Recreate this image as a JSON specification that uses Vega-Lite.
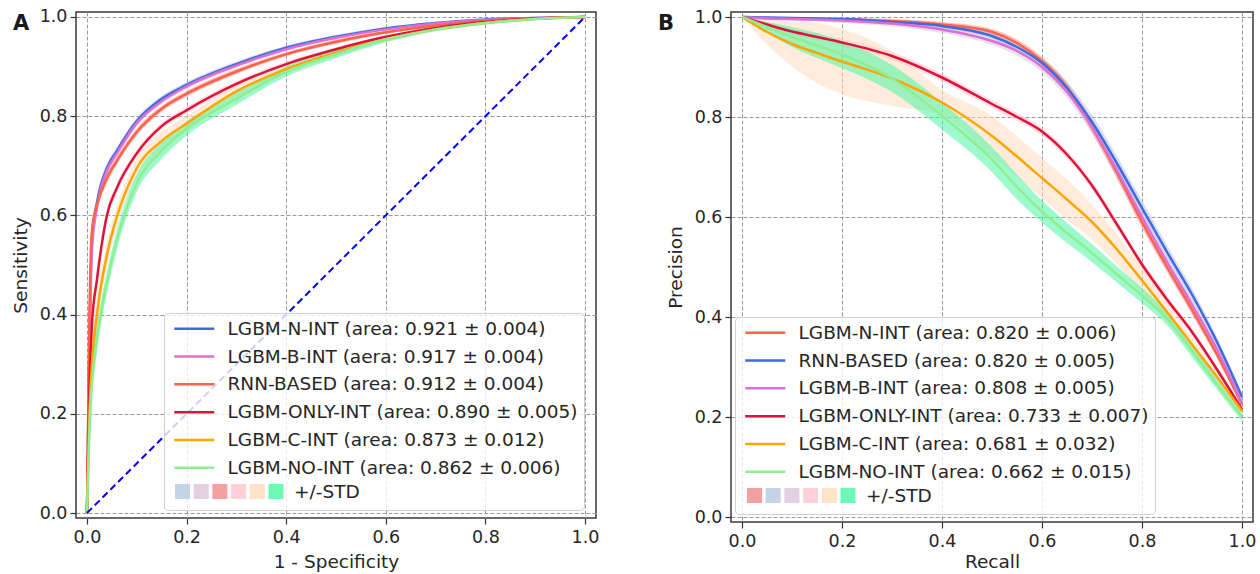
{
"$schema": "https://vega.github.io/schema/vega-lite/v6.json",
"autosize": "none",
"padding": {"left": 76, "top": 12, "right": 1184, "bottom": 562},
"background": "white",
"config": {
  "font": "DejaVu Sans",
  "view": {"stroke": "#3a3a3a", "strokeWidth": 1.5},
  "axis": {"grid": true, "gridDash": [4, 2], "gridColor": "#9a9a9a", "gridWidth": 1, "domain": false, "tickColor": "#333333", "tickSize": 6, "tickWidth": 1.2, "labelFont": "DejaVu Sans", "labelFontSize": 17.5, "labelColor": "#262626", "titleFont": "DejaVu Sans", "titleFontSize": 18.5, "titleFontWeight": "normal", "titleColor": "#262626", "labelPadding": 3, "labelFlush": false, "labelOverlap": false},
  "axisX": {"titlePadding": 7, "labelPadding": 4},
  "axisY": {"titlePadding": 9},
  "legend": {"labelFont": "DejaVu Sans", "titleFont": "DejaVu Sans", "labelColor": "#262626", "titleColor": "#262626", "titleFontWeight": "normal"}
},
"datasets": {
"rocA": [
{"m":"LGBM-N-INT","x":0,"y":0,"lo":0,"hi":0},
{"m":"LGBM-N-INT","x":0.005,"y":0.35,"lo":0.33,"hi":0.37},
{"m":"LGBM-N-INT","x":0.01,"y":0.55,"lo":0.535,"hi":0.565},
{"m":"LGBM-N-INT","x":0.02,"y":0.625,"lo":0.613,"hi":0.637},
{"m":"LGBM-N-INT","x":0.04,"y":0.695,"lo":0.685,"hi":0.705},
{"m":"LGBM-N-INT","x":0.06,"y":0.73,"lo":0.722,"hi":0.738},
{"m":"LGBM-N-INT","x":0.1,"y":0.79,"lo":0.783,"hi":0.797},
{"m":"LGBM-N-INT","x":0.15,"y":0.835,"lo":0.829,"hi":0.841},
{"m":"LGBM-N-INT","x":0.2,"y":0.863,"lo":0.857,"hi":0.869},
{"m":"LGBM-N-INT","x":0.3,"y":0.905,"lo":0.9,"hi":0.91},
{"m":"LGBM-N-INT","x":0.4,"y":0.938,"lo":0.934,"hi":0.942},
{"m":"LGBM-N-INT","x":0.5,"y":0.96,"lo":0.956,"hi":0.964},
{"m":"LGBM-N-INT","x":0.6,"y":0.977,"lo":0.974,"hi":0.98},
{"m":"LGBM-N-INT","x":0.7,"y":0.988,"lo":0.986,"hi":0.99},
{"m":"LGBM-N-INT","x":0.8,"y":0.995,"lo":0.993,"hi":0.997},
{"m":"LGBM-N-INT","x":0.9,"y":0.998,"lo":0.997,"hi":0.999},
{"m":"LGBM-N-INT","x":1,"y":1,"lo":1,"hi":1},
{"m":"LGBM-B-INT","x":0,"y":0,"lo":0,"hi":0},
{"m":"LGBM-B-INT","x":0.005,"y":0.33,"lo":0.31,"hi":0.35},
{"m":"LGBM-B-INT","x":0.01,"y":0.53,"lo":0.515,"hi":0.545},
{"m":"LGBM-B-INT","x":0.02,"y":0.615,"lo":0.603,"hi":0.627},
{"m":"LGBM-B-INT","x":0.04,"y":0.69,"lo":0.68,"hi":0.7},
{"m":"LGBM-B-INT","x":0.06,"y":0.725,"lo":0.717,"hi":0.733},
{"m":"LGBM-B-INT","x":0.1,"y":0.786,"lo":0.779,"hi":0.793},
{"m":"LGBM-B-INT","x":0.15,"y":0.83,"lo":0.824,"hi":0.836},
{"m":"LGBM-B-INT","x":0.2,"y":0.86,"lo":0.854,"hi":0.866},
{"m":"LGBM-B-INT","x":0.3,"y":0.902,"lo":0.897,"hi":0.907},
{"m":"LGBM-B-INT","x":0.4,"y":0.935,"lo":0.931,"hi":0.939},
{"m":"LGBM-B-INT","x":0.5,"y":0.958,"lo":0.954,"hi":0.962},
{"m":"LGBM-B-INT","x":0.6,"y":0.975,"lo":0.972,"hi":0.978},
{"m":"LGBM-B-INT","x":0.7,"y":0.987,"lo":0.985,"hi":0.989},
{"m":"LGBM-B-INT","x":0.8,"y":0.994,"lo":0.992,"hi":0.996},
{"m":"LGBM-B-INT","x":0.9,"y":0.998,"lo":0.997,"hi":0.999},
{"m":"LGBM-B-INT","x":1,"y":1,"lo":1,"hi":1},
{"m":"RNN-BASED","x":0,"y":0,"lo":0,"hi":0},
{"m":"RNN-BASED","x":0.005,"y":0.4,"lo":0.38,"hi":0.42},
{"m":"RNN-BASED","x":0.01,"y":0.57,"lo":0.555,"hi":0.585},
{"m":"RNN-BASED","x":0.02,"y":0.62,"lo":0.608,"hi":0.632},
{"m":"RNN-BASED","x":0.04,"y":0.675,"lo":0.665,"hi":0.685},
{"m":"RNN-BASED","x":0.06,"y":0.71,"lo":0.702,"hi":0.718},
{"m":"RNN-BASED","x":0.1,"y":0.768,"lo":0.761,"hi":0.775},
{"m":"RNN-BASED","x":0.15,"y":0.815,"lo":0.809,"hi":0.821},
{"m":"RNN-BASED","x":0.2,"y":0.845,"lo":0.839,"hi":0.851},
{"m":"RNN-BASED","x":0.3,"y":0.89,"lo":0.885,"hi":0.895},
{"m":"RNN-BASED","x":0.4,"y":0.925,"lo":0.921,"hi":0.929},
{"m":"RNN-BASED","x":0.5,"y":0.95,"lo":0.946,"hi":0.954},
{"m":"RNN-BASED","x":0.6,"y":0.969,"lo":0.966,"hi":0.972},
{"m":"RNN-BASED","x":0.7,"y":0.983,"lo":0.981,"hi":0.985},
{"m":"RNN-BASED","x":0.8,"y":0.992,"lo":0.99,"hi":0.994},
{"m":"RNN-BASED","x":0.9,"y":0.997,"lo":0.996,"hi":0.998},
{"m":"RNN-BASED","x":1,"y":1,"lo":1,"hi":1},
{"m":"LGBM-ONLY-INT","x":0,"y":0,"lo":0,"hi":0},
{"m":"LGBM-ONLY-INT","x":0.005,"y":0.25,"lo":0.225,"hi":0.275},
{"m":"LGBM-ONLY-INT","x":0.01,"y":0.38,"lo":0.36,"hi":0.4},
{"m":"LGBM-ONLY-INT","x":0.02,"y":0.47,"lo":0.455,"hi":0.485},
{"m":"LGBM-ONLY-INT","x":0.04,"y":0.6,"lo":0.588,"hi":0.612},
{"m":"LGBM-ONLY-INT","x":0.06,"y":0.655,"lo":0.645,"hi":0.665},
{"m":"LGBM-ONLY-INT","x":0.1,"y":0.725,"lo":0.717,"hi":0.733},
{"m":"LGBM-ONLY-INT","x":0.15,"y":0.78,"lo":0.773,"hi":0.787},
{"m":"LGBM-ONLY-INT","x":0.2,"y":0.812,"lo":0.805,"hi":0.819},
{"m":"LGBM-ONLY-INT","x":0.3,"y":0.865,"lo":0.859,"hi":0.871},
{"m":"LGBM-ONLY-INT","x":0.4,"y":0.905,"lo":0.9,"hi":0.91},
{"m":"LGBM-ONLY-INT","x":0.5,"y":0.935,"lo":0.931,"hi":0.939},
{"m":"LGBM-ONLY-INT","x":0.6,"y":0.96,"lo":0.957,"hi":0.963},
{"m":"LGBM-ONLY-INT","x":0.7,"y":0.978,"lo":0.975,"hi":0.981},
{"m":"LGBM-ONLY-INT","x":0.8,"y":0.99,"lo":0.988,"hi":0.992},
{"m":"LGBM-ONLY-INT","x":0.9,"y":0.997,"lo":0.996,"hi":0.998},
{"m":"LGBM-ONLY-INT","x":1,"y":1,"lo":1,"hi":1},
{"m":"LGBM-C-INT","x":0,"y":0,"lo":0,"hi":0},
{"m":"LGBM-C-INT","x":0.005,"y":0.2,"lo":0.16,"hi":0.24},
{"m":"LGBM-C-INT","x":0.01,"y":0.3,"lo":0.265,"hi":0.335},
{"m":"LGBM-C-INT","x":0.02,"y":0.4,"lo":0.37,"hi":0.43},
{"m":"LGBM-C-INT","x":0.04,"y":0.52,"lo":0.495,"hi":0.545},
{"m":"LGBM-C-INT","x":0.06,"y":0.597,"lo":0.575,"hi":0.619},
{"m":"LGBM-C-INT","x":0.1,"y":0.695,"lo":0.675,"hi":0.715},
{"m":"LGBM-C-INT","x":0.15,"y":0.75,"lo":0.732,"hi":0.768},
{"m":"LGBM-C-INT","x":0.2,"y":0.785,"lo":0.769,"hi":0.801},
{"m":"LGBM-C-INT","x":0.3,"y":0.85,"lo":0.837,"hi":0.863},
{"m":"LGBM-C-INT","x":0.4,"y":0.895,"lo":0.885,"hi":0.905},
{"m":"LGBM-C-INT","x":0.5,"y":0.928,"lo":0.92,"hi":0.936},
{"m":"LGBM-C-INT","x":0.6,"y":0.955,"lo":0.949,"hi":0.961},
{"m":"LGBM-C-INT","x":0.7,"y":0.975,"lo":0.971,"hi":0.979},
{"m":"LGBM-C-INT","x":0.8,"y":0.988,"lo":0.985,"hi":0.991},
{"m":"LGBM-C-INT","x":0.9,"y":0.996,"lo":0.994,"hi":0.998},
{"m":"LGBM-C-INT","x":1,"y":1,"lo":1,"hi":1},
{"m":"LGBM-NO-INT","x":0,"y":0,"lo":0,"hi":0},
{"m":"LGBM-NO-INT","x":0.005,"y":0.17,"lo":0.135,"hi":0.205},
{"m":"LGBM-NO-INT","x":0.01,"y":0.26,"lo":0.23,"hi":0.29},
{"m":"LGBM-NO-INT","x":0.02,"y":0.35,"lo":0.323,"hi":0.377},
{"m":"LGBM-NO-INT","x":0.04,"y":0.464,"lo":0.442,"hi":0.486},
{"m":"LGBM-NO-INT","x":0.06,"y":0.55,"lo":0.53,"hi":0.57},
{"m":"LGBM-NO-INT","x":0.1,"y":0.665,"lo":0.647,"hi":0.683},
{"m":"LGBM-NO-INT","x":0.15,"y":0.73,"lo":0.714,"hi":0.746},
{"m":"LGBM-NO-INT","x":0.2,"y":0.775,"lo":0.761,"hi":0.789},
{"m":"LGBM-NO-INT","x":0.3,"y":0.835,"lo":0.823,"hi":0.847},
{"m":"LGBM-NO-INT","x":0.4,"y":0.89,"lo":0.88,"hi":0.9},
{"m":"LGBM-NO-INT","x":0.5,"y":0.925,"lo":0.917,"hi":0.933},
{"m":"LGBM-NO-INT","x":0.6,"y":0.955,"lo":0.949,"hi":0.961},
{"m":"LGBM-NO-INT","x":0.7,"y":0.975,"lo":0.971,"hi":0.979},
{"m":"LGBM-NO-INT","x":0.8,"y":0.988,"lo":0.985,"hi":0.991},
{"m":"LGBM-NO-INT","x":0.9,"y":0.996,"lo":0.994,"hi":0.998},
{"m":"LGBM-NO-INT","x":1,"y":1,"lo":1,"hi":1}
],
"prB": [
{"m":"LGBM-N-INT","x":0,"y":1,"lo":1,"hi":1},
{"m":"LGBM-N-INT","x":0.05,"y":0.998,"lo":0.996,"hi":1},
{"m":"LGBM-N-INT","x":0.1,"y":0.997,"lo":0.994,"hi":1},
{"m":"LGBM-N-INT","x":0.15,"y":0.996,"lo":0.993,"hi":0.999},
{"m":"LGBM-N-INT","x":0.2,"y":0.995,"lo":0.992,"hi":0.998},
{"m":"LGBM-N-INT","x":0.3,"y":0.992,"lo":0.988,"hi":0.996},
{"m":"LGBM-N-INT","x":0.4,"y":0.985,"lo":0.98,"hi":0.99},
{"m":"LGBM-N-INT","x":0.5,"y":0.97,"lo":0.964,"hi":0.976},
{"m":"LGBM-N-INT","x":0.55,"y":0.948,"lo":0.941,"hi":0.955},
{"m":"LGBM-N-INT","x":0.6,"y":0.912,"lo":0.904,"hi":0.92},
{"m":"LGBM-N-INT","x":0.65,"y":0.86,"lo":0.85,"hi":0.87},
{"m":"LGBM-N-INT","x":0.7,"y":0.78,"lo":0.768,"hi":0.792},
{"m":"LGBM-N-INT","x":0.75,"y":0.688,"lo":0.676,"hi":0.7},
{"m":"LGBM-N-INT","x":0.8,"y":0.59,"lo":0.578,"hi":0.602},
{"m":"LGBM-N-INT","x":0.85,"y":0.5,"lo":0.49,"hi":0.51},
{"m":"LGBM-N-INT","x":0.9,"y":0.415,"lo":0.405,"hi":0.425},
{"m":"LGBM-N-INT","x":0.95,"y":0.325,"lo":0.317,"hi":0.333},
{"m":"LGBM-N-INT","x":1,"y":0.225,"lo":0.219,"hi":0.231},
{"m":"RNN-BASED","x":0,"y":1,"lo":1,"hi":1},
{"m":"RNN-BASED","x":0.05,"y":0.999,"lo":0.997,"hi":1},
{"m":"RNN-BASED","x":0.1,"y":0.998,"lo":0.995,"hi":1},
{"m":"RNN-BASED","x":0.15,"y":0.997,"lo":0.994,"hi":1},
{"m":"RNN-BASED","x":0.2,"y":0.996,"lo":0.993,"hi":0.999},
{"m":"RNN-BASED","x":0.3,"y":0.99,"lo":0.986,"hi":0.994},
{"m":"RNN-BASED","x":0.4,"y":0.982,"lo":0.977,"hi":0.987},
{"m":"RNN-BASED","x":0.5,"y":0.962,"lo":0.956,"hi":0.968},
{"m":"RNN-BASED","x":0.55,"y":0.94,"lo":0.932,"hi":0.948},
{"m":"RNN-BASED","x":0.6,"y":0.908,"lo":0.898,"hi":0.918},
{"m":"RNN-BASED","x":0.65,"y":0.858,"lo":0.846,"hi":0.87},
{"m":"RNN-BASED","x":0.7,"y":0.79,"lo":0.776,"hi":0.804},
{"m":"RNN-BASED","x":0.75,"y":0.707,"lo":0.692,"hi":0.722},
{"m":"RNN-BASED","x":0.8,"y":0.618,"lo":0.603,"hi":0.633},
{"m":"RNN-BASED","x":0.85,"y":0.53,"lo":0.516,"hi":0.544},
{"m":"RNN-BASED","x":0.9,"y":0.445,"lo":0.433,"hi":0.457},
{"m":"RNN-BASED","x":0.95,"y":0.35,"lo":0.34,"hi":0.36},
{"m":"RNN-BASED","x":1,"y":0.24,"lo":0.232,"hi":0.248},
{"m":"LGBM-B-INT","x":0,"y":1,"lo":1,"hi":1},
{"m":"LGBM-B-INT","x":0.05,"y":0.997,"lo":0.994,"hi":1},
{"m":"LGBM-B-INT","x":0.1,"y":0.996,"lo":0.992,"hi":1},
{"m":"LGBM-B-INT","x":0.15,"y":0.995,"lo":0.991,"hi":0.999},
{"m":"LGBM-B-INT","x":0.2,"y":0.993,"lo":0.988,"hi":0.998},
{"m":"LGBM-B-INT","x":0.3,"y":0.987,"lo":0.981,"hi":0.993},
{"m":"LGBM-B-INT","x":0.4,"y":0.975,"lo":0.968,"hi":0.982},
{"m":"LGBM-B-INT","x":0.5,"y":0.952,"lo":0.944,"hi":0.96},
{"m":"LGBM-B-INT","x":0.55,"y":0.932,"lo":0.923,"hi":0.941},
{"m":"LGBM-B-INT","x":0.6,"y":0.9,"lo":0.89,"hi":0.91},
{"m":"LGBM-B-INT","x":0.65,"y":0.85,"lo":0.838,"hi":0.862},
{"m":"LGBM-B-INT","x":0.7,"y":0.78,"lo":0.767,"hi":0.793},
{"m":"LGBM-B-INT","x":0.75,"y":0.693,"lo":0.68,"hi":0.706},
{"m":"LGBM-B-INT","x":0.8,"y":0.6,"lo":0.587,"hi":0.613},
{"m":"LGBM-B-INT","x":0.85,"y":0.51,"lo":0.498,"hi":0.522},
{"m":"LGBM-B-INT","x":0.9,"y":0.425,"lo":0.415,"hi":0.435},
{"m":"LGBM-B-INT","x":0.95,"y":0.335,"lo":0.327,"hi":0.343},
{"m":"LGBM-B-INT","x":1,"y":0.228,"lo":0.222,"hi":0.234},
{"m":"LGBM-ONLY-INT","x":0,"y":1,"lo":1,"hi":1},
{"m":"LGBM-ONLY-INT","x":0.05,"y":0.985,"lo":0.98,"hi":0.99},
{"m":"LGBM-ONLY-INT","x":0.1,"y":0.971,"lo":0.965,"hi":0.977},
{"m":"LGBM-ONLY-INT","x":0.15,"y":0.96,"lo":0.953,"hi":0.967},
{"m":"LGBM-ONLY-INT","x":0.2,"y":0.949,"lo":0.942,"hi":0.956},
{"m":"LGBM-ONLY-INT","x":0.3,"y":0.922,"lo":0.914,"hi":0.93},
{"m":"LGBM-ONLY-INT","x":0.4,"y":0.879,"lo":0.871,"hi":0.887},
{"m":"LGBM-ONLY-INT","x":0.5,"y":0.826,"lo":0.818,"hi":0.834},
{"m":"LGBM-ONLY-INT","x":0.55,"y":0.8,"lo":0.792,"hi":0.808},
{"m":"LGBM-ONLY-INT","x":0.6,"y":0.771,"lo":0.763,"hi":0.779},
{"m":"LGBM-ONLY-INT","x":0.65,"y":0.725,"lo":0.717,"hi":0.733},
{"m":"LGBM-ONLY-INT","x":0.7,"y":0.663,"lo":0.655,"hi":0.671},
{"m":"LGBM-ONLY-INT","x":0.75,"y":0.585,"lo":0.577,"hi":0.593},
{"m":"LGBM-ONLY-INT","x":0.8,"y":0.505,"lo":0.497,"hi":0.513},
{"m":"LGBM-ONLY-INT","x":0.85,"y":0.435,"lo":0.427,"hi":0.443},
{"m":"LGBM-ONLY-INT","x":0.9,"y":0.37,"lo":0.363,"hi":0.377},
{"m":"LGBM-ONLY-INT","x":0.95,"y":0.295,"lo":0.289,"hi":0.301},
{"m":"LGBM-ONLY-INT","x":1,"y":0.215,"lo":0.21,"hi":0.22},
{"m":"LGBM-C-INT","x":0,"y":1,"lo":1,"hi":1},
{"m":"LGBM-C-INT","x":0.05,"y":0.97,"lo":0.945,"hi":0.995},
{"m":"LGBM-C-INT","x":0.1,"y":0.946,"lo":0.901,"hi":0.991},
{"m":"LGBM-C-INT","x":0.15,"y":0.928,"lo":0.868,"hi":0.988},
{"m":"LGBM-C-INT","x":0.2,"y":0.911,"lo":0.846,"hi":0.976},
{"m":"LGBM-C-INT","x":0.3,"y":0.877,"lo":0.822,"hi":0.932},
{"m":"LGBM-C-INT","x":0.4,"y":0.829,"lo":0.804,"hi":0.854},
{"m":"LGBM-C-INT","x":0.5,"y":0.762,"lo":0.722,"hi":0.802},
{"m":"LGBM-C-INT","x":0.55,"y":0.721,"lo":0.681,"hi":0.761},
{"m":"LGBM-C-INT","x":0.6,"y":0.678,"lo":0.638,"hi":0.718},
{"m":"LGBM-C-INT","x":0.65,"y":0.635,"lo":0.595,"hi":0.675},
{"m":"LGBM-C-INT","x":0.7,"y":0.59,"lo":0.555,"hi":0.625},
{"m":"LGBM-C-INT","x":0.75,"y":0.535,"lo":0.505,"hi":0.565},
{"m":"LGBM-C-INT","x":0.8,"y":0.473,"lo":0.448,"hi":0.498},
{"m":"LGBM-C-INT","x":0.85,"y":0.41,"lo":0.39,"hi":0.43},
{"m":"LGBM-C-INT","x":0.9,"y":0.345,"lo":0.33,"hi":0.36},
{"m":"LGBM-C-INT","x":0.95,"y":0.28,"lo":0.268,"hi":0.292},
{"m":"LGBM-C-INT","x":1,"y":0.212,"lo":0.202,"hi":0.222},
{"m":"LGBM-NO-INT","x":0,"y":1,"lo":1,"hi":1},
{"m":"LGBM-NO-INT","x":0.05,"y":0.98,"lo":0.97,"hi":0.99},
{"m":"LGBM-NO-INT","x":0.1,"y":0.96,"lo":0.94,"hi":0.98},
{"m":"LGBM-NO-INT","x":0.15,"y":0.943,"lo":0.918,"hi":0.968},
{"m":"LGBM-NO-INT","x":0.2,"y":0.925,"lo":0.898,"hi":0.952},
{"m":"LGBM-NO-INT","x":0.3,"y":0.877,"lo":0.85,"hi":0.904},
{"m":"LGBM-NO-INT","x":0.4,"y":0.802,"lo":0.775,"hi":0.829},
{"m":"LGBM-NO-INT","x":0.5,"y":0.715,"lo":0.69,"hi":0.74},
{"m":"LGBM-NO-INT","x":0.55,"y":0.66,"lo":0.635,"hi":0.685},
{"m":"LGBM-NO-INT","x":0.6,"y":0.611,"lo":0.589,"hi":0.633},
{"m":"LGBM-NO-INT","x":0.65,"y":0.568,"lo":0.548,"hi":0.588},
{"m":"LGBM-NO-INT","x":0.7,"y":0.528,"lo":0.51,"hi":0.546},
{"m":"LGBM-NO-INT","x":0.75,"y":0.485,"lo":0.469,"hi":0.501},
{"m":"LGBM-NO-INT","x":0.8,"y":0.443,"lo":0.428,"hi":0.458},
{"m":"LGBM-NO-INT","x":0.85,"y":0.397,"lo":0.384,"hi":0.41},
{"m":"LGBM-NO-INT","x":0.9,"y":0.332,"lo":0.32,"hi":0.344},
{"m":"LGBM-NO-INT","x":0.95,"y":0.265,"lo":0.255,"hi":0.275},
{"m":"LGBM-NO-INT","x":1,"y":0.2,"lo":0.192,"hi":0.208}
],
"diag": [{"x":0,"y":0},{"x":1,"y":1}]
},
"spacing": 135,
"bounds": "flush",
"resolve": {"scale": {"stroke": "independent", "fill": "independent"}, "legend": {"stroke": "independent", "fill": "independent"}},
"hconcat": [
{
  "width": 520, "height": 506,
  "title": {"text": "A", "anchor": "start", "frame": "group", "dx": -63, "dy": 43, "offset": 0, "fontSize": 21, "fontWeight": "bold", "font": "DejaVu Sans", "baseline": "alphabetic", "color": "#1a1a1a"},
  "layer": [
    {"data": {"name": "rocA"}, "mark": {"type": "area", "interpolate": "monotone", "opacity": 0.5},
     "encoding": {
       "x": {"field": "x", "type": "quantitative", "scale": {"domain": [-0.022, 1.022], "nice": false, "zero": false}, "axis": {"title": "1 - Specificity", "values": [0, 0.2, 0.4, 0.6, 0.8, 1], "format": ".1f"}},
       "y": {"field": "lo", "type": "quantitative", "scale": {"domain": [-0.01, 1.01], "nice": false, "zero": false}, "axis": {"title": "Sensitivity", "values": [0, 0.2, 0.4, 0.6, 0.8, 1], "format": ".1f"}},
       "y2": {"field": "hi"},
       "fill": {"field": "m", "type": "nominal",
         "scale": {"domain": ["LGBM-N-INT","LGBM-B-INT","RNN-BASED","LGBM-ONLY-INT","LGBM-C-INT","LGBM-NO-INT"], "range": ["#B0C4DE","#D8BFD8","#F08080","#FFC0CB","#FFDAB9","#3CF59A"]},
         "legend": {"orient": "none", "legendX": 99, "legendY": 472, "zindex": 3, "direction": "horizontal", "columns": 6, "symbolType": "square", "symbolSize": 225, "symbolOpacity": 0.75, "symbolStrokeWidth": 0, "labelExpr": "''", "labelOffset": 0, "columnPadding": 3.7, "title": "+/-STD", "titleOrient": "right", "titleFontSize": 18.5, "titlePadding": 10, "titleBaseline": "middle", "titleAnchor": "middle", "padding": 0}}
     }},
    {"data": {"name": "rocA"}, "mark": {"type": "line", "interpolate": "monotone", "strokeWidth": 2.5},
     "encoding": {
       "x": {"field": "x", "type": "quantitative", "axis": {"title": "1 - Specificity", "values": [0, 0.2, 0.4, 0.6, 0.8, 1], "format": ".1f"}},
       "y": {"field": "y", "type": "quantitative", "axis": {"title": "Sensitivity", "values": [0, 0.2, 0.4, 0.6, 0.8, 1], "format": ".1f"}},
       "stroke": {"field": "m", "type": "nominal",
         "sort": ["LGBM-N-INT","LGBM-B-INT","RNN-BASED","LGBM-ONLY-INT","LGBM-C-INT","LGBM-NO-INT"],
         "scale": {"range": ["#4169E1","#DA70D6","#FF6347","#DC143C","#FFA500","#90EE90"]},
         "legend": {"orient": "none", "legendX": 88, "legendY": 301, "zindex": 2, "symbolType": "M-1.1,0H6.9", "symbolSize": 100, "symbolStrokeWidth": 2.5, "labelFontSize": 18.5, "labelOffset": 38.5, "labelLimit": 600, "rowPadding": 8.8, "padding": 6.5, "fillColor": "rgba(255,255,255,0.8)", "strokeColor": "#d0d0d0", "cornerRadius": 4, "title": "\u00a0", "titleOrient": "bottom", "titleFontSize": 17, "titlePadding": 10,
           "labelExpr": "datum.label == 'LGBM-N-INT' ? 'LGBM-N-INT (area: 0.921 ± 0.004)' : datum.label == 'LGBM-B-INT' ? 'LGBM-B-INT (aera: 0.917 ± 0.004)' : datum.label == 'RNN-BASED' ? 'RNN-BASED (area: 0.912 ± 0.004)' : datum.label == 'LGBM-ONLY-INT' ? 'LGBM-ONLY-INT (area: 0.890 ± 0.005)' : datum.label == 'LGBM-C-INT' ? 'LGBM-C-INT (area: 0.873 ± 0.012)' : 'LGBM-NO-INT (area: 0.862 ± 0.006)'"}}
     }},
    {"data": {"name": "diag"}, "mark": {"type": "line", "color": "#0000FF", "strokeDash": [7, 4], "strokeWidth": 2},
     "encoding": {
       "x": {"field": "x", "type": "quantitative", "axis": {"title": "1 - Specificity", "values": [0, 0.2, 0.4, 0.6, 0.8, 1], "format": ".1f"}},
       "y": {"field": "y", "type": "quantitative", "axis": {"title": "Sensitivity", "values": [0, 0.2, 0.4, 0.6, 0.8, 1], "format": ".1f"}}
     }}
  ]
},
{
  "width": 522, "height": 510,
  "title": {"text": "B", "anchor": "start", "frame": "group", "dx": -73, "dy": 43, "offset": 0, "fontSize": 21, "fontWeight": "bold", "font": "DejaVu Sans", "baseline": "alphabetic", "color": "#1a1a1a"},
  "layer": [
    {"data": {"name": "prB"}, "mark": {"type": "area", "interpolate": "monotone", "opacity": 0.5},
     "encoding": {
       "x": {"field": "x", "type": "quantitative", "scale": {"domain": [-0.022, 1.022], "nice": false, "zero": false}, "axis": {"title": "Recall", "titlePadding": 3, "values": [0, 0.2, 0.4, 0.6, 0.8, 1], "format": ".1f"}},
       "y": {"field": "lo", "type": "quantitative", "scale": {"domain": [-0.01, 1.01], "nice": false, "zero": false}, "axis": {"title": "Precision", "values": [0, 0.2, 0.4, 0.6, 0.8, 1], "format": ".1f"}},
       "y2": {"field": "hi"},
       "fill": {"field": "m", "type": "nominal",
         "scale": {"domain": ["LGBM-N-INT","RNN-BASED","LGBM-B-INT","LGBM-ONLY-INT","LGBM-C-INT","LGBM-NO-INT"], "range": ["#F08080","#B0C4DE","#D8BFD8","#FFC0CB","#FFDAB9","#3CF59A"]},
         "legend": {"orient": "none", "legendX": 16, "legendY": 476, "zindex": 3, "direction": "horizontal", "columns": 6, "symbolType": "square", "symbolSize": 225, "symbolOpacity": 0.75, "symbolStrokeWidth": 0, "labelExpr": "''", "labelOffset": 0, "columnPadding": 3.7, "title": "+/-STD", "titleOrient": "right", "titleFontSize": 18.5, "titlePadding": 10, "titleBaseline": "middle", "titleAnchor": "middle", "padding": 0}}
     }},
    {"data": {"name": "prB"}, "mark": {"type": "line", "interpolate": "monotone", "strokeWidth": 2.5},
     "encoding": {
       "x": {"field": "x", "type": "quantitative", "axis": {"title": "Recall", "titlePadding": 3, "values": [0, 0.2, 0.4, 0.6, 0.8, 1], "format": ".1f"}},
       "y": {"field": "y", "type": "quantitative", "axis": {"title": "Precision", "values": [0, 0.2, 0.4, 0.6, 0.8, 1], "format": ".1f"}},
       "stroke": {"field": "m", "type": "nominal",
         "sort": ["LGBM-N-INT","RNN-BASED","LGBM-B-INT","LGBM-ONLY-INT","LGBM-C-INT","LGBM-NO-INT"],
         "scale": {"range": ["#FF6347","#4169E1","#DA70D6","#DC143C","#FFA500","#90EE90"]},
         "legend": {"orient": "none", "legendX": 4, "legendY": 305, "zindex": 2, "symbolType": "M-1.1,0H6.9", "symbolSize": 100, "symbolStrokeWidth": 2.5, "labelFontSize": 18.5, "labelOffset": 38.5, "labelLimit": 600, "rowPadding": 8.8, "padding": 6.5, "fillColor": "rgba(255,255,255,0.8)", "strokeColor": "#d0d0d0", "cornerRadius": 4, "title": "\u00a0", "titleOrient": "bottom", "titleFontSize": 17, "titlePadding": 10,
           "labelExpr": "datum.label == 'LGBM-N-INT' ? 'LGBM-N-INT (area: 0.820 ± 0.006)' : datum.label == 'RNN-BASED' ? 'RNN-BASED (area: 0.820 ± 0.005)' : datum.label == 'LGBM-B-INT' ? 'LGBM-B-INT (area: 0.808 ± 0.005)' : datum.label == 'LGBM-ONLY-INT' ? 'LGBM-ONLY-INT (area: 0.733 ± 0.007)' : datum.label == 'LGBM-C-INT' ? 'LGBM-C-INT (area: 0.681 ± 0.032)' : 'LGBM-NO-INT (area: 0.662 ± 0.015)'"}}
     }}
  ]
}
]
}
